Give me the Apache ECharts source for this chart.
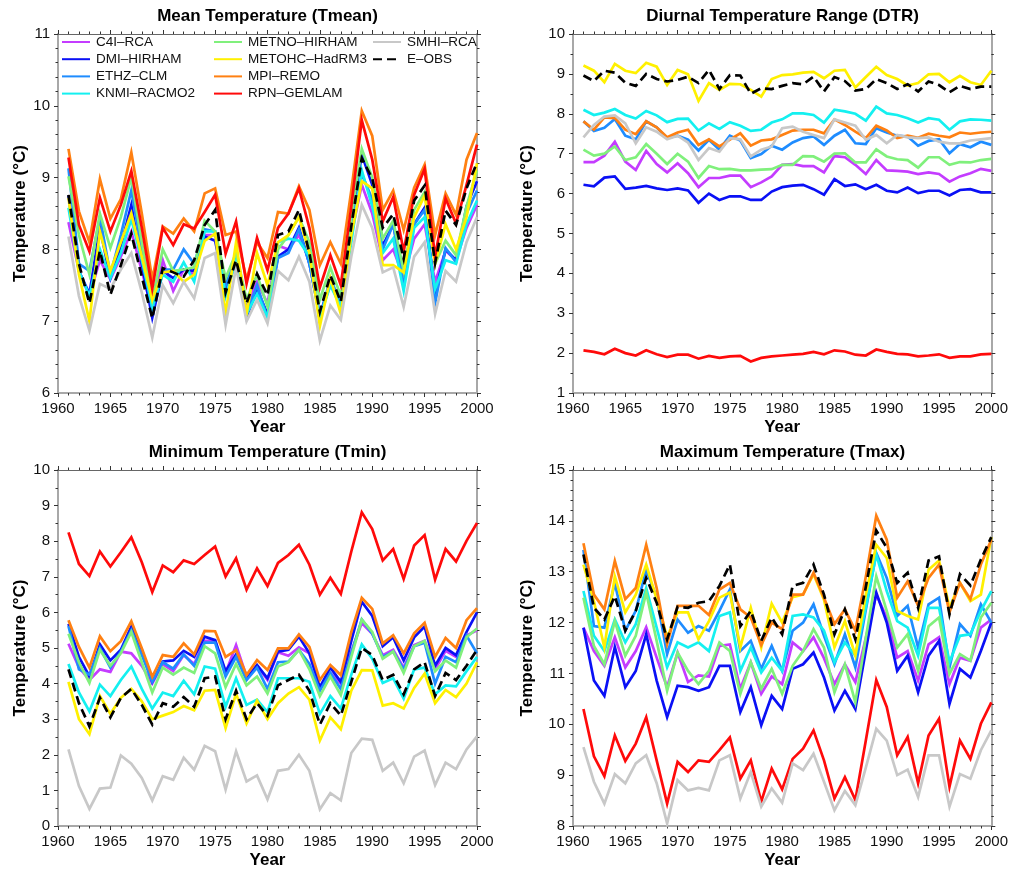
<!DOCTYPE html>
<html>
<head>
<meta charset="utf-8">
<title>Regional climate models vs E-OBS, 1961-2000</title>
<script src="https://cdn.jsdelivr.net/npm/echarts@6/dist/echarts.min.js"></script>
<style>
  html, body { margin: 0; padding: 0; background: #ffffff; overflow: hidden; }
  #chart { width: 1011px; height: 870px; }
</style>
</head>
<body>
<div id="chart"></div>
<script>
// Years on the x axis
const years = [1961, 1962, 1963, 1964, 1965, 1966, 1967, 1968, 1969, 1970,
               1971, 1972, 1973, 1974, 1975, 1976, 1977, 1978, 1979, 1980,
               1981, 1982, 1983, 1984, 1985, 1986, 1987, 1988, 1989, 1990,
               1991, 1992, 1993, 1994, 1995, 1996, 1997, 1998, 1999, 2000];

// Model / observation names (legend order)
const seriesNames = ['C4I–RCA', 'DMI–HIRHAM', 'ETHZ–CLM', 'KNMI–RACMO2',
                     'METNO–HIRHAM', 'METOHC–HadRM3', 'MPI–REMO', 'RPN–GEMLAM',
                     'SMHI–RCA', 'E–OBS'];

// ---- Mean temperature (°C) ----
const tmeanC4I    = [8.38, 7.70, 7.35, 7.85, 7.58, 7.90, 8.25, 7.70, 7.15, 7.85, 7.42, 7.72, 7.65, 8.20, 8.20, 7.45, 7.80, 7.20, 7.55, 7.25, 8.05, 8.00, 8.20, 7.85, 7.10, 7.50, 7.30, 8.20, 8.90, 8.50, 7.85, 8.00, 7.60, 8.15, 8.35, 7.55, 7.98, 7.85, 8.30, 8.62];
const tmeanDMI    = [8.75, 7.70, 7.38, 8.30, 7.60, 8.05, 8.62, 7.80, 7.05, 7.70, 7.60, 7.72, 7.70, 8.18, 8.12, 7.40, 7.85, 7.05, 7.45, 7.10, 7.90, 8.00, 8.30, 7.80, 7.08, 7.55, 7.25, 8.40, 9.32, 8.90, 8.05, 8.35, 7.60, 8.35, 8.58, 7.38, 8.00, 7.85, 8.60, 8.95];
const tmeanETHZ   = [9.13, 7.80, 7.70, 8.45, 7.65, 8.20, 8.82, 8.00, 7.15, 7.72, 7.72, 8.00, 7.80, 8.28, 8.25, 7.50, 7.90, 7.10, 7.50, 7.05, 7.88, 7.95, 8.28, 7.80, 7.05, 7.60, 7.25, 8.30, 9.05, 8.70, 8.00, 8.35, 7.50, 8.35, 8.55, 7.25, 8.02, 7.82, 8.50, 8.82];
const tmeanKNMI   = [8.58, 7.70, 7.35, 8.00, 7.60, 7.95, 8.42, 7.85, 7.20, 7.65, 7.55, 7.82, 7.55, 8.25, 8.25, 7.35, 7.85, 7.10, 7.38, 7.05, 8.10, 8.15, 8.12, 7.90, 7.05, 7.50, 7.20, 8.10, 9.10, 8.60, 7.95, 8.15, 7.42, 8.30, 8.45, 7.45, 7.85, 7.80, 8.35, 8.68];
const tmeanMETNO  = [9.02, 8.20, 7.65, 8.50, 8.02, 8.45, 9.00, 8.10, 7.30, 8.00, 7.70, 7.72, 7.75, 8.40, 8.25, 7.60, 7.95, 7.30, 7.65, 7.20, 8.00, 8.20, 8.45, 8.10, 7.30, 7.75, 7.35, 8.45, 9.40, 9.00, 8.15, 8.40, 7.70, 8.55, 8.80, 7.80, 8.12, 7.92, 8.60, 9.10];
const tmeanMETOHC = [8.72, 7.65, 7.00, 8.25, 7.70, 8.10, 8.50, 7.90, 7.30, 7.68, 7.70, 7.55, 7.65, 8.12, 8.22, 7.10, 8.10, 7.10, 7.95, 7.50, 8.10, 8.20, 8.45, 7.95, 6.93, 7.60, 7.10, 8.20, 8.95, 8.85, 7.78, 7.78, 7.68, 8.45, 8.75, 7.80, 8.35, 8.00, 8.45, 9.20];
const tmeanMPI    = [9.40, 8.53, 8.10, 8.98, 8.43, 8.70, 9.35, 8.50, 7.58, 8.32, 8.22, 8.43, 8.25, 8.78, 8.85, 8.20, 8.25, 7.58, 8.10, 7.88, 8.52, 8.50, 8.88, 8.55, 7.78, 8.10, 7.80, 8.82, 9.93, 9.58, 8.55, 8.82, 8.27, 8.86, 9.18, 8.20, 8.78, 8.48, 9.25, 9.62];
const tmeanRPN    = [9.28, 8.34, 7.97, 8.72, 8.25, 8.62, 9.09, 8.30, 7.45, 8.30, 8.06, 8.35, 8.29, 8.52, 8.76, 7.94, 8.39, 7.52, 8.16, 7.71, 8.30, 8.50, 8.85, 8.30, 7.47, 7.92, 7.50, 8.60, 9.80, 9.25, 8.39, 8.73, 7.97, 8.76, 9.12, 7.90, 8.71, 8.36, 8.90, 9.46];
const tmeanSMHI   = [8.18, 7.35, 6.87, 7.52, 7.45, 7.72, 7.95, 7.40, 6.77, 7.50, 7.25, 7.55, 7.32, 7.88, 7.95, 6.95, 7.75, 7.00, 7.30, 6.97, 7.70, 7.57, 7.90, 7.55, 6.73, 7.22, 7.02, 7.90, 8.62, 8.30, 7.68, 7.75, 7.20, 7.90, 8.10, 7.10, 7.70, 7.55, 8.10, 8.45];
const tmeanEOBS   = [8.76, 7.80, 7.25, 7.98, 7.37, 7.78, 8.22, 7.62, 7.04, 7.74, 7.68, 7.62, 7.85, 8.34, 8.55, 7.40, 7.85, 7.25, 7.66, 7.36, 8.20, 8.25, 8.55, 7.95, 7.13, 7.64, 7.27, 8.32, 9.27, 8.99, 8.30, 8.49, 7.87, 8.68, 8.89, 7.81, 8.54, 8.34, 8.85, 9.21];

// ---- Diurnal temperature range (°C) ----
const dtrC4I    = [6.79, 6.79, 6.95, 7.30, 6.80, 6.59, 7.07, 6.74, 6.53, 6.76, 6.51, 6.16, 6.39, 6.39, 6.45, 6.45, 6.16, 6.28, 6.43, 6.72, 6.74, 6.69, 6.69, 6.53, 6.94, 6.91, 6.72, 6.49, 6.84, 6.58, 6.57, 6.55, 6.49, 6.53, 6.49, 6.30, 6.43, 6.51, 6.62, 6.57];
const dtrDMI    = [6.22, 6.18, 6.40, 6.43, 6.12, 6.15, 6.19, 6.13, 6.09, 6.13, 6.08, 5.77, 6.00, 5.84, 5.93, 5.93, 5.84, 5.84, 6.05, 6.16, 6.20, 6.22, 6.11, 5.97, 6.36, 6.19, 6.23, 6.11, 6.22, 6.07, 6.03, 6.15, 6.01, 6.07, 6.07, 5.95, 6.09, 6.11, 6.03, 6.03];
const dtrETHZ   = [7.81, 7.57, 7.65, 7.87, 7.45, 7.36, 7.81, 7.66, 7.39, 7.45, 7.35, 7.08, 7.35, 7.10, 7.45, 7.33, 6.89, 6.99, 7.20, 7.10, 7.28, 7.39, 7.43, 7.22, 7.45, 7.60, 7.26, 7.24, 7.64, 7.53, 7.45, 7.43, 7.20, 7.32, 7.36, 7.01, 7.24, 7.16, 7.30, 7.22];
const dtrKNMI   = [8.10, 7.97, 8.03, 8.12, 7.97, 7.88, 8.07, 7.96, 7.79, 7.87, 7.88, 7.58, 7.76, 7.62, 7.79, 7.70, 7.57, 7.60, 7.78, 7.86, 8.01, 8.01, 7.97, 7.78, 8.10, 8.06, 8.00, 7.83, 8.18, 8.01, 7.97, 7.89, 7.78, 7.89, 7.85, 7.60, 7.81, 7.86, 7.85, 7.83];
const dtrMETNO  = [7.10, 6.95, 7.00, 7.18, 6.84, 6.91, 7.24, 7.00, 6.74, 7.00, 6.80, 6.39, 6.69, 6.61, 6.62, 6.58, 6.58, 6.60, 6.61, 6.72, 6.72, 6.94, 6.93, 6.80, 7.00, 7.01, 6.78, 6.78, 7.11, 6.93, 6.86, 6.84, 6.65, 6.91, 6.91, 6.72, 6.79, 6.78, 6.84, 6.87];
const dtrMETOHC = [9.21, 9.08, 8.79, 9.25, 9.08, 9.02, 9.28, 9.18, 8.72, 9.10, 8.99, 8.32, 8.77, 8.60, 8.75, 8.74, 8.60, 8.43, 8.87, 8.97, 8.99, 9.03, 9.05, 8.89, 9.08, 9.10, 8.66, 8.92, 9.18, 8.97, 8.87, 8.71, 8.77, 8.99, 9.00, 8.79, 8.95, 8.79, 8.72, 9.08];
const dtrMPI    = [7.81, 7.60, 7.91, 7.89, 7.60, 7.49, 7.81, 7.66, 7.41, 7.53, 7.60, 7.22, 7.36, 7.18, 7.35, 7.51, 7.20, 7.33, 7.36, 7.47, 7.58, 7.60, 7.60, 7.51, 7.86, 7.72, 7.55, 7.39, 7.70, 7.58, 7.39, 7.45, 7.40, 7.50, 7.45, 7.41, 7.53, 7.50, 7.53, 7.55];
const dtrRPN    = [2.07, 2.03, 1.97, 2.11, 2.00, 1.94, 2.07, 1.97, 1.90, 1.96, 1.96, 1.86, 1.93, 1.88, 1.92, 1.93, 1.79, 1.88, 1.92, 1.94, 1.96, 1.98, 2.03, 1.97, 2.07, 2.04, 1.96, 1.94, 2.09, 2.03, 1.98, 1.97, 1.92, 1.94, 1.97, 1.88, 1.92, 1.92, 1.97, 1.98];
const dtrSMHI   = [7.41, 7.72, 7.93, 7.96, 7.76, 7.26, 7.66, 7.55, 7.36, 7.45, 7.28, 6.84, 7.14, 7.05, 7.39, 7.36, 6.93, 7.10, 7.18, 7.64, 7.68, 7.55, 7.47, 7.39, 7.86, 7.78, 7.70, 7.35, 7.47, 7.26, 7.47, 7.41, 7.39, 7.41, 7.30, 7.26, 7.26, 7.33, 7.36, 7.39];
const dtrEOBS   = [8.96, 8.82, 9.08, 9.03, 8.78, 8.70, 9.00, 8.87, 8.81, 8.85, 8.93, 8.77, 9.10, 8.62, 8.97, 8.96, 8.50, 8.64, 8.62, 8.70, 8.77, 8.74, 8.93, 8.56, 8.92, 8.82, 8.58, 8.62, 8.87, 8.77, 8.62, 8.74, 8.56, 8.81, 8.72, 8.54, 8.70, 8.62, 8.68, 8.68];

// ---- Minimum temperature (°C) ----
const tminC4I    = [5.12, 4.45, 4.10, 4.40, 4.33, 4.90, 4.85, 4.50, 4.00, 4.55, 4.35, 4.80, 4.55, 5.20, 5.20, 4.30, 5.08, 4.20, 4.50, 4.10, 4.88, 4.78, 5.02, 4.85, 3.85, 4.30, 4.00, 4.90, 5.70, 5.40, 4.80, 4.95, 4.45, 5.08, 5.20, 4.40, 4.92, 4.75, 5.35, 5.50];
const tminDMI    = [5.68, 4.75, 4.20, 5.10, 4.65, 4.95, 5.60, 4.95, 4.05, 4.62, 4.65, 4.92, 4.75, 5.32, 5.22, 4.35, 4.82, 4.12, 4.52, 4.15, 4.90, 4.95, 5.32, 4.85, 3.90, 4.45, 4.05, 5.20, 6.30, 5.90, 5.05, 5.30, 4.65, 5.30, 5.60, 4.50, 5.00, 4.80, 5.45, 6.00];
const tminETHZ   = [5.62, 4.40, 4.25, 5.00, 4.45, 4.90, 5.50, 4.80, 4.05, 4.60, 4.42, 4.82, 4.50, 5.15, 5.15, 4.20, 4.75, 4.10, 4.45, 3.85, 4.60, 4.62, 4.95, 4.55, 3.80, 4.30, 3.85, 4.85, 5.80, 5.40, 4.75, 4.90, 4.40, 5.05, 5.15, 4.00, 4.75, 4.60, 5.35, 4.85];
const tminKNMI   = [4.55, 3.75, 3.22, 3.97, 3.65, 4.10, 4.48, 3.85, 3.30, 3.75, 3.65, 4.08, 3.70, 4.48, 4.42, 3.35, 4.15, 3.40, 3.55, 3.20, 4.15, 4.15, 4.15, 4.05, 3.15, 3.65, 3.30, 4.25, 5.10, 4.70, 4.02, 4.15, 3.58, 4.40, 4.45, 3.70, 3.95, 3.92, 4.35, 4.75];
const tminMETNO  = [5.40, 4.60, 4.02, 4.95, 4.50, 4.85, 5.45, 4.60, 3.75, 4.45, 4.25, 4.45, 4.30, 5.05, 4.85, 3.90, 4.55, 3.95, 4.20, 3.72, 4.48, 4.60, 4.95, 4.40, 3.65, 4.20, 3.68, 4.75, 5.80, 5.45, 4.70, 4.90, 4.30, 5.05, 5.20, 4.35, 4.65, 4.45, 5.30, 5.55];
const tminMETOHC = [4.05, 3.00, 2.58, 3.65, 3.15, 3.60, 3.85, 3.50, 3.00, 3.10, 3.20, 3.37, 3.25, 3.80, 3.82, 2.75, 3.72, 2.88, 3.52, 3.00, 3.45, 3.72, 3.90, 3.55, 2.40, 3.05, 2.72, 3.80, 4.38, 4.37, 3.38, 3.45, 3.30, 3.88, 4.28, 3.45, 3.82, 3.62, 4.00, 4.60];
const tminMPI    = [5.78, 5.03, 4.45, 5.33, 4.91, 5.19, 5.75, 4.99, 4.19, 4.80, 4.75, 5.13, 4.82, 5.48, 5.47, 4.75, 4.94, 4.24, 4.66, 4.38, 4.99, 4.99, 5.38, 5.03, 4.10, 4.52, 4.24, 5.45, 6.41, 6.10, 5.13, 5.36, 4.85, 5.41, 5.71, 4.75, 5.28, 5.00, 5.78, 6.12];
const tminRPN    = [8.25, 7.36, 7.02, 7.71, 7.29, 7.69, 8.11, 7.41, 6.57, 7.32, 7.13, 7.46, 7.36, 7.61, 7.85, 7.01, 7.52, 6.64, 7.24, 6.74, 7.39, 7.61, 7.90, 7.34, 6.50, 6.97, 6.52, 7.71, 8.81, 8.34, 7.46, 7.78, 6.94, 7.88, 8.17, 6.92, 7.78, 7.43, 8.01, 8.51];
const tminSMHI   = [2.15, 1.12, 0.48, 1.05, 1.08, 1.98, 1.75, 1.35, 0.72, 1.40, 1.30, 1.92, 1.58, 2.25, 2.10, 1.02, 2.10, 1.25, 1.42, 0.75, 1.55, 1.60, 2.00, 1.55, 0.47, 0.92, 0.72, 2.05, 2.45, 2.42, 1.55, 1.78, 1.20, 1.95, 2.12, 1.15, 1.78, 1.60, 2.15, 2.52];
const tminEOBS   = [4.40, 3.45, 2.80, 3.60, 3.05, 3.60, 3.85, 3.40, 2.85, 3.45, 3.35, 3.62, 3.35, 4.15, 4.20, 3.00, 3.80, 3.00, 3.45, 3.10, 3.95, 4.10, 4.25, 3.80, 2.85, 3.45, 3.10, 4.05, 5.00, 4.80, 4.10, 4.25, 3.70, 4.40, 4.60, 3.65, 4.30, 4.10, 4.50, 4.95];

// ---- Maximum temperature (°C) ----
const tmaxC4I    = [11.90, 11.44, 11.15, 11.71, 11.12, 11.44, 11.91, 11.31, 10.73, 11.41, 10.83, 10.96, 10.94, 11.54, 11.57, 10.70, 11.22, 10.60, 10.94, 10.79, 11.61, 11.44, 11.71, 11.30, 10.79, 11.18, 10.83, 11.70, 12.55, 12.10, 11.31, 11.44, 10.86, 11.57, 11.71, 10.79, 11.31, 11.25, 11.90, 12.06];
const tmaxDMI    = [11.90, 10.86, 10.56, 11.52, 10.73, 11.05, 11.77, 10.86, 10.14, 10.76, 10.73, 10.66, 10.73, 11.15, 11.15, 10.24, 10.73, 9.98, 10.56, 10.30, 11.09, 11.18, 11.41, 10.92, 10.27, 10.66, 10.30, 11.45, 12.59, 12.00, 11.05, 11.35, 10.63, 11.35, 11.64, 10.40, 11.09, 10.92, 11.44, 12.00];
const tmaxETHZ   = [13.43, 11.93, 11.90, 12.78, 11.84, 12.23, 13.04, 12.49, 11.38, 12.06, 11.80, 11.93, 11.84, 12.23, 12.65, 11.44, 11.64, 11.09, 11.54, 11.05, 11.84, 12.00, 12.36, 11.74, 11.18, 11.77, 11.12, 12.25, 13.37, 12.88, 12.13, 12.33, 11.51, 12.36, 12.49, 11.12, 11.97, 11.74, 12.36, 12.00];
const tmaxKNMI   = [12.62, 11.74, 11.44, 12.06, 11.61, 11.97, 12.68, 11.90, 11.12, 11.61, 11.51, 11.61, 11.44, 12.13, 12.20, 11.05, 11.51, 11.02, 11.31, 11.05, 12.13, 12.16, 12.10, 11.84, 11.22, 11.61, 11.35, 12.30, 13.34, 12.62, 12.03, 11.90, 11.35, 12.29, 12.29, 11.22, 11.74, 11.77, 12.23, 12.62];
const tmaxMETNO  = [12.49, 11.54, 11.18, 12.03, 11.35, 11.74, 12.59, 11.64, 10.66, 11.41, 11.05, 10.79, 11.05, 11.61, 11.44, 10.60, 11.22, 10.70, 11.09, 10.60, 11.15, 11.44, 11.87, 11.51, 10.63, 11.18, 10.43, 11.70, 12.91, 12.23, 11.51, 11.77, 11.05, 11.93, 12.10, 10.99, 11.38, 11.25, 12.10, 12.39];
const tmaxMETOHC = [13.14, 12.42, 11.51, 12.91, 12.20, 12.55, 13.14, 12.46, 11.71, 12.20, 12.20, 11.67, 12.03, 12.49, 12.59, 11.51, 12.29, 11.51, 12.37, 12.00, 12.50, 12.55, 12.95, 12.45, 11.51, 12.03, 11.35, 12.55, 13.53, 13.27, 12.23, 12.13, 12.06, 13.04, 13.22, 12.29, 12.78, 12.42, 12.55, 13.68];
const tmaxMPI    = [13.56, 12.55, 12.26, 13.21, 12.46, 12.68, 13.53, 12.68, 11.58, 12.33, 12.33, 12.33, 12.15, 12.65, 12.78, 12.26, 12.10, 11.56, 12.00, 11.87, 12.55, 12.55, 12.98, 12.49, 11.97, 12.26, 11.84, 12.90, 14.10, 13.63, 12.49, 12.81, 12.33, 12.88, 13.14, 12.20, 12.78, 12.46, 13.14, 13.63];
const tmaxRPN    = [10.30, 9.37, 8.98, 9.78, 9.28, 9.62, 10.14, 9.29, 8.44, 9.26, 9.06, 9.29, 9.26, 9.49, 9.74, 8.93, 9.29, 8.48, 9.13, 8.72, 9.32, 9.52, 9.88, 9.29, 8.54, 8.96, 8.51, 9.68, 10.87, 10.34, 9.39, 9.75, 8.84, 9.78, 10.11, 8.77, 9.68, 9.32, 10.01, 10.43];
const tmaxSMHI   = [9.55, 8.87, 8.44, 9.02, 8.84, 9.23, 9.39, 8.84, 8.05, 8.90, 8.70, 8.75, 8.70, 9.29, 9.39, 8.54, 9.06, 8.38, 8.74, 8.46, 9.23, 9.10, 9.42, 8.87, 8.31, 8.69, 8.41, 9.15, 9.91, 9.68, 9.00, 9.11, 8.57, 9.39, 9.39, 8.38, 9.02, 8.93, 9.49, 9.88];
const tmaxEOBS   = [13.34, 12.29, 12.06, 12.52, 11.84, 12.23, 12.88, 12.39, 11.67, 12.31, 12.29, 12.39, 12.42, 12.72, 13.14, 11.93, 12.23, 11.64, 12.10, 11.77, 12.72, 12.78, 13.14, 12.55, 11.77, 12.26, 11.67, 12.70, 13.81, 13.47, 12.78, 12.98, 12.29, 13.22, 13.30, 12.16, 12.95, 12.73, 13.24, 13.68];

// Panel titles and y axis ranges
const panelTitles = ['Mean Temperature (Tmean)', 'Diurnal Temperature Range (DTR)',
                     'Minimum Temperature (Tmin)', 'Maximum Temperature (Tmax)'];
const yMin = [6, 1, 0, 8];
const yMax = [11, 10, 10, 15];
const yMinorSplit = [5, 2, 2, 5];

const panelData = [
  [tmeanC4I, tmeanDMI, tmeanETHZ, tmeanKNMI, tmeanMETNO, tmeanMETOHC, tmeanMPI, tmeanRPN, tmeanSMHI, tmeanEOBS],
  [dtrC4I, dtrDMI, dtrETHZ, dtrKNMI, dtrMETNO, dtrMETOHC, dtrMPI, dtrRPN, dtrSMHI, dtrEOBS],
  [tminC4I, tminDMI, tminETHZ, tminKNMI, tminMETNO, tminMETOHC, tminMPI, tminRPN, tminSMHI, tminEOBS],
  [tmaxC4I, tmaxDMI, tmaxETHZ, tmaxKNMI, tmaxMETNO, tmaxMETOHC, tmaxMPI, tmaxRPN, tmaxSMHI, tmaxEOBS]
];

const lineColors = ['#c43cff', '#0a10f5', '#1e8cff', '#14f0f0', '#80f07c',
                    '#fff000', '#ff8012', '#ff0a0a', '#c8c8c8', '#000000'];

const FONT = '"Liberation Sans", Arial, sans-serif';

// Plot areas: [left, top, width, height]
const gridBoxes = [
  [58, 34, 419, 359],
  [573, 34, 419, 359],
  [58, 470, 419, 358],
  [573, 470, 419, 358]
];
// Gap between the left axis and the rotated y axis name
const yNameGap = [29, 37, 29, 37];

const tickStyle = { color: '#333', width: 1 };

const option = {
  backgroundColor: '#ffffff',
  animation: false,
  title: [],
  legend: [],
  grid: [],
  xAxis: [],
  yAxis: [],
  series: []
};

gridBoxes.forEach((b, g) => {
  option.grid.push({ left: b[0], top: b[1], width: b[2], height: b[3], containLabel: false });

  option.title.push({
    text: panelTitles[g],
    left: b[0] + b[2] / 2,
    top: b[1] - 28,
    textAlign: 'center',
    padding: 0,
    textStyle: { fontFamily: FONT, fontSize: 17, fontWeight: 'bold', color: '#000', lineHeight: 20 }
  });

  const xCommon = {
    type: 'value', gridIndex: g, min: 1960, max: 2000, interval: 5,
    splitLine: { show: false },
    axisTick: { show: true, inside: false, length: 4, lineStyle: tickStyle },
    minorTick: { show: true, splitNumber: 5, length: 2.5, lineStyle: tickStyle }
  };
  option.xAxis.push(Object.assign({}, xCommon, {
    position: 'bottom',
    name: 'Year', nameLocation: 'middle', nameGap: 26,
    nameTextStyle: { fontFamily: FONT, fontSize: 17, fontWeight: 'bold', color: '#000' },
    axisLine: { onZero: false, lineStyle: { color: '#a8a8a8', width: 2 } },
    axisLabel: { fontFamily: FONT, fontSize: 15, color: '#111', margin: 8,
                 formatter: v => String(v) }
  }));
  option.xAxis.push(Object.assign({}, xCommon, {
    position: 'top',
    axisLine: { onZero: false, lineStyle: { color: '#666', width: 1 } },
    axisLabel: { show: false }
  }));

  const yCommon = {
    type: 'value', gridIndex: g, min: yMin[g], max: yMax[g], interval: 1,
    splitLine: { show: false },
    axisTick: { show: true, inside: false, length: 4, lineStyle: tickStyle },
    minorTick: { show: true, splitNumber: yMinorSplit[g], length: 2.5, lineStyle: tickStyle }
  };
  option.yAxis.push(Object.assign({}, yCommon, {
    position: 'left',
    name: 'Temperature (°C)', nameLocation: 'middle', nameGap: yNameGap[g], nameRotate: 90,
    nameTextStyle: { fontFamily: FONT, fontSize: 17, fontWeight: 'bold', color: '#000' },
    axisLine: { show: true, onZero: false, lineStyle: { color: '#a8a8a8', width: 2 } },
    axisLabel: { fontFamily: FONT, fontSize: 15, color: '#111', margin: 8 }
  }));
  option.yAxis.push(Object.assign({}, yCommon, {
    position: 'right',
    axisLine: { show: true, onZero: false, lineStyle: { color: '#a8a8a8', width: 2 } },
    axisLabel: { show: false }
  }));

  panelData[g].forEach((vals, k) => {
    const isObs = k === seriesNames.length - 1;
    option.series.push({
      type: 'line',
      name: seriesNames[k],
      xAxisIndex: 2 * g,
      yAxisIndex: 2 * g,
      data: years.map((yr, i) => [yr, vals[i]]),
      showSymbol: false,
      symbol: 'none',
      silent: true,
      z: 2 + k,
      lineStyle: {
        color: lineColors[k],
        width: 2.7,
        type: isObs ? [9, 5] : 'solid',
        join: 'miter'
      },
      itemStyle: { color: lineColors[k] }
    });
  });
});

// Legend inside the first panel, three columns
const legendCols = [
  { names: seriesNames.slice(0, 4), left: 61 },
  { names: seriesNames.slice(4, 8), left: 213 },
  { names: seriesNames.slice(8, 10), left: 372 }
];
legendCols.forEach(c => {
  option.legend.push({
    data: c.names,
    orient: 'vertical',
    left: c.left,
    top: 35,
    padding: 0,
    itemWidth: 28,
    itemHeight: 12,
    itemGap: 3.2,
    selectedMode: false,
    itemStyle: { opacity: 0, color: 'rgba(0,0,0,0)', borderWidth: 0 },
    textStyle: { fontFamily: FONT, fontSize: 13.5, color: '#111', lineHeight: 14, padding: [0, 0, 0, 1] }
  });
});

const chart = echarts.init(document.getElementById('chart'), null, { renderer: 'canvas' });
chart.setOption(option);
</script>
</body>
</html>
